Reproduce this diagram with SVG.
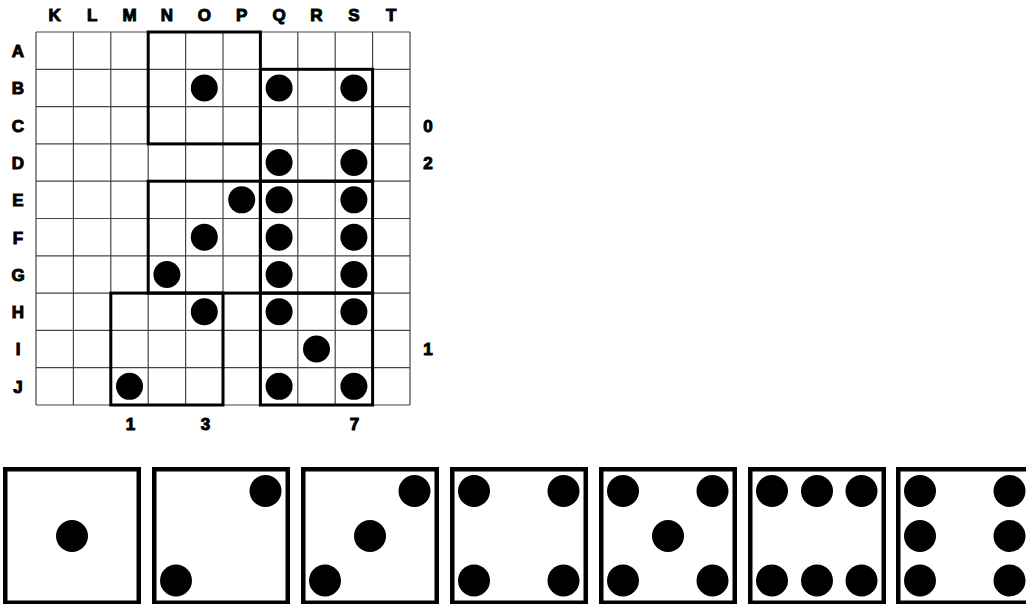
<svg xmlns="http://www.w3.org/2000/svg" width="1026" height="604" viewBox="0 0 1026 604">
<style>
.lbl{font-family:"Liberation Sans",Arial,sans-serif;font-weight:bold;font-size:17px;fill:#000;stroke:#000;stroke-width:1;text-anchor:middle}
.grid line{stroke:#444;stroke-width:1.2}
.box{fill:none;stroke:#000;stroke-width:3}
.die{fill:#fff;stroke:#000;stroke-width:4.5}
.dot{fill:#000}
</style>
<rect width="1026" height="604" fill="#fff"/>
<g id="grid" class="grid">
<line x1="36" y1="32" x2="36" y2="405"/>
<line x1="73.4" y1="32" x2="73.4" y2="405"/>
<line x1="110.8" y1="32" x2="110.8" y2="405"/>
<line x1="148.2" y1="32" x2="148.2" y2="405"/>
<line x1="185.6" y1="32" x2="185.6" y2="405"/>
<line x1="223" y1="32" x2="223" y2="405"/>
<line x1="260.4" y1="32" x2="260.4" y2="405"/>
<line x1="297.8" y1="32" x2="297.8" y2="405"/>
<line x1="335.2" y1="32" x2="335.2" y2="405"/>
<line x1="372.6" y1="32" x2="372.6" y2="405"/>
<line x1="410" y1="32" x2="410" y2="405"/>
<line x1="36" y1="32" x2="410" y2="32"/>
<line x1="36" y1="69.3" x2="410" y2="69.3"/>
<line x1="36" y1="106.6" x2="410" y2="106.6"/>
<line x1="36" y1="143.9" x2="410" y2="143.9"/>
<line x1="36" y1="181.2" x2="410" y2="181.2"/>
<line x1="36" y1="218.5" x2="410" y2="218.5"/>
<line x1="36" y1="255.8" x2="410" y2="255.8"/>
<line x1="36" y1="293.1" x2="410" y2="293.1"/>
<line x1="36" y1="330.4" x2="410" y2="330.4"/>
<line x1="36" y1="367.7" x2="410" y2="367.7"/>
<line x1="36" y1="405" x2="410" y2="405"/>
</g>
<g id="labels">
<text class="lbl" x="54.7" y="21">K</text>
<text class="lbl" x="92.1" y="21">L</text>
<text class="lbl" x="129.5" y="21">M</text>
<text class="lbl" x="166.9" y="21">N</text>
<text class="lbl" x="204.3" y="21">O</text>
<text class="lbl" x="241.7" y="21">P</text>
<text class="lbl" x="279.1" y="21">Q</text>
<text class="lbl" x="316.5" y="21">R</text>
<text class="lbl" x="353.9" y="21">S</text>
<text class="lbl" x="391.3" y="21">T</text>
<text class="lbl" x="18" y="57">A</text>
<text class="lbl" x="18" y="94.3">B</text>
<text class="lbl" x="18" y="131.6">C</text>
<text class="lbl" x="18" y="168.9">D</text>
<text class="lbl" x="18" y="206.2">E</text>
<text class="lbl" x="18" y="243.5">F</text>
<text class="lbl" x="18" y="280.8">G</text>
<text class="lbl" x="18" y="318.1">H</text>
<text class="lbl" x="18" y="355.4">I</text>
<text class="lbl" x="18" y="392.7">J</text>
<text class="lbl" x="428" y="131.6">0</text>
<text class="lbl" x="428" y="168.9">2</text>
<text class="lbl" x="428" y="355.4">1</text>
<text class="lbl" x="130.5" y="430">1</text>
<text class="lbl" x="205.5" y="430">3</text>
<text class="lbl" x="354.5" y="430">7</text>
</g>
<g id="regions">
<rect class="box" x="148.2" y="32" width="112.2" height="111.9"/>
<rect class="box" x="260.4" y="69.3" width="112.2" height="111.9"/>
<rect class="box" x="148.2" y="181.2" width="112.2" height="111.9"/>
<rect class="box" x="260.4" y="181.2" width="112.2" height="111.9"/>
<rect class="box" x="110.8" y="293.1" width="112.2" height="111.9"/>
<rect class="box" x="260.4" y="293.1" width="112.2" height="111.9"/>
</g>
<g id="grid-dots">
<circle class="dot" cx="204.3" cy="87.95" r="13.5"/>
<circle class="dot" cx="279.1" cy="87.95" r="13.5"/>
<circle class="dot" cx="353.9" cy="87.95" r="13.5"/>
<circle class="dot" cx="279.1" cy="162.55" r="13.5"/>
<circle class="dot" cx="353.9" cy="162.55" r="13.5"/>
<circle class="dot" cx="241.7" cy="199.85" r="13.5"/>
<circle class="dot" cx="279.1" cy="199.85" r="13.5"/>
<circle class="dot" cx="353.9" cy="199.85" r="13.5"/>
<circle class="dot" cx="204.3" cy="237.15" r="13.5"/>
<circle class="dot" cx="279.1" cy="237.15" r="13.5"/>
<circle class="dot" cx="353.9" cy="237.15" r="13.5"/>
<circle class="dot" cx="166.9" cy="274.45" r="13.5"/>
<circle class="dot" cx="279.1" cy="274.45" r="13.5"/>
<circle class="dot" cx="353.9" cy="274.45" r="13.5"/>
<circle class="dot" cx="204.3" cy="311.75" r="13.5"/>
<circle class="dot" cx="279.1" cy="311.75" r="13.5"/>
<circle class="dot" cx="353.9" cy="311.75" r="13.5"/>
<circle class="dot" cx="316.5" cy="349.05" r="13.5"/>
<circle class="dot" cx="129.5" cy="386.35" r="13.5"/>
<circle class="dot" cx="279.1" cy="386.35" r="13.5"/>
<circle class="dot" cx="353.9" cy="386.35" r="13.5"/>
</g>
<g id="die1" transform="translate(3,467)">
<rect class="die" x="2.25" y="2.25" width="133.5" height="133.5"/>
<circle class="dot" cx="69" cy="69" r="16"/>
</g>
<g id="die2" transform="translate(152,467)">
<rect class="die" x="2.25" y="2.25" width="133.5" height="133.5"/>
<circle class="dot" cx="113.5" cy="24" r="16"/>
<circle class="dot" cx="24" cy="113.5" r="16"/>
</g>
<g id="die3" transform="translate(301,467)">
<rect class="die" x="2.25" y="2.25" width="133.5" height="133.5"/>
<circle class="dot" cx="113.5" cy="24" r="16"/>
<circle class="dot" cx="69" cy="69" r="16"/>
<circle class="dot" cx="24" cy="113.5" r="16"/>
</g>
<g id="die4" transform="translate(450,467)">
<rect class="die" x="2.25" y="2.25" width="133.5" height="133.5"/>
<circle class="dot" cx="24" cy="24" r="16"/>
<circle class="dot" cx="113.5" cy="24" r="16"/>
<circle class="dot" cx="24" cy="113.5" r="16"/>
<circle class="dot" cx="113.5" cy="113.5" r="16"/>
</g>
<g id="die5" transform="translate(599,467)">
<rect class="die" x="2.25" y="2.25" width="133.5" height="133.5"/>
<circle class="dot" cx="24" cy="24" r="16"/>
<circle class="dot" cx="113.5" cy="24" r="16"/>
<circle class="dot" cx="69" cy="69" r="16"/>
<circle class="dot" cx="24" cy="113.5" r="16"/>
<circle class="dot" cx="113.5" cy="113.5" r="16"/>
</g>
<g id="die6" transform="translate(748,467)">
<rect class="die" x="2.25" y="2.25" width="133.5" height="133.5"/>
<circle class="dot" cx="24" cy="24" r="16"/>
<circle class="dot" cx="69" cy="24" r="16"/>
<circle class="dot" cx="113.5" cy="24" r="16"/>
<circle class="dot" cx="24" cy="113.5" r="16"/>
<circle class="dot" cx="69" cy="113.5" r="16"/>
<circle class="dot" cx="113.5" cy="113.5" r="16"/>
</g>
<g id="die7" transform="translate(896,467)">
<rect class="die" x="2.25" y="2.25" width="133.5" height="133.5"/>
<circle class="dot" cx="24" cy="24" r="16"/>
<circle class="dot" cx="113.5" cy="24" r="16"/>
<circle class="dot" cx="24" cy="69" r="16"/>
<circle class="dot" cx="113.5" cy="69" r="16"/>
<circle class="dot" cx="24" cy="113.5" r="16"/>
<circle class="dot" cx="113.5" cy="113.5" r="16"/>
</g>
</svg>
